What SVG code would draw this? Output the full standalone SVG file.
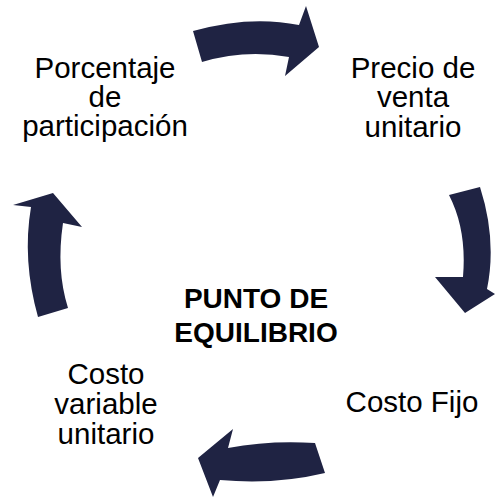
<svg xmlns="http://www.w3.org/2000/svg" width="496" height="497" viewBox="0 0 496 497">
<style>
.arrow{fill:#1F2343}
.t{font-family:"Liberation Sans",Arial,sans-serif;font-size:29.5px;fill:#000;text-anchor:middle}
.b{font-weight:bold;font-size:28px}
</style>
<rect width="496" height="497" fill="#fff"/>
<g id="connectors">
<path class="arrow" d="M193,31 Q250,15 299,25 L306,6 L319,47 L285,76 L289,57 Q245,49 202,62 Z"/>
<path class="arrow" d="M449,195 L480,187 Q497,240 487,289 L495,294 L465,313 L435,277 L463,277 Q467,230 449,195 Z"/>
<path class="arrow" d="M315,443 Q270,440 228,448 L233,429 L198,458 L213,497 L220,480 Q275,485 325,473 Z"/>
<path class="arrow" d="M38,317 Q22,260 31,207 L13,205 L53,193 L82,227 L63,223 Q56,270 68,308 Z"/>
</g>
<g id="center">
<text class="t b" x="256" y="308">PUNTO DE</text>
<text class="t b" x="256" y="342">EQUILIBRIO</text>
</g>
<g id="precio">
<text class="t" x="413" y="78">Precio de</text>
<text class="t" x="413" y="107">venta</text>
<text class="t" x="413" y="137">unitario</text>
</g>
<g id="costo-fijo">
<text class="t" x="412" y="412">Costo Fijo</text>
</g>
<g id="costo-variable">
<text class="t" x="106" y="384">Costo</text>
<text class="t" x="106" y="414">variable</text>
<text class="t" x="106" y="444">unitario</text>
</g>
<g id="porcentaje">
<text class="t" x="105" y="78">Porcentaje</text>
<text class="t" x="105" y="107">de</text>
<text class="t" x="105" y="136">participación</text>
</g>
</svg>
